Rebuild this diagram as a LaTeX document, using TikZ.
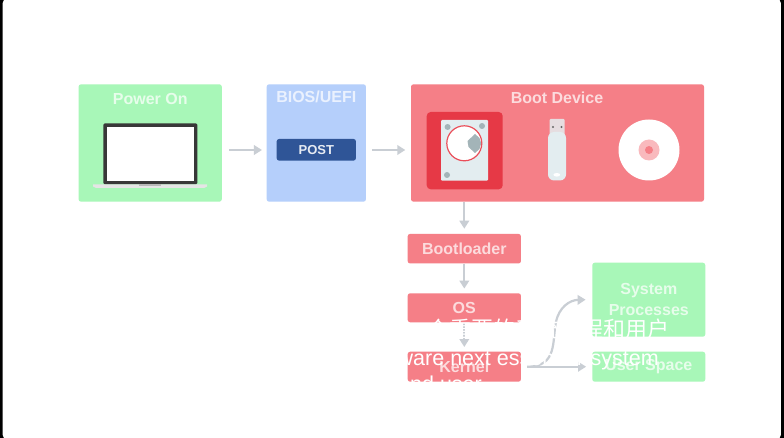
\documentclass[tikz,border=0pt]{standalone}
\usepackage{fontspec}
\setmainfont{Liberation Sans}
\newfontfamily\cjk{Noto Sans CJK SC}
\usetikzlibrary{arrows.meta}

\definecolor{greenbox}{HTML}{A8F7B8}
\definecolor{bluebox}{HTML}{B5CFFB}
\definecolor{redbox}{HTML}{F57F87}
\definecolor{hddred}{HTML}{E63946}
\definecolor{postblue}{HTML}{2F5597}
\definecolor{flowgray}{HTML}{C9CED4}
\definecolor{steel}{HTML}{E3EDF0}
\definecolor{screwgray}{HTML}{A3B4B8}

\tikzset{
  box/.style={rounded corners=2.5pt, inner sep=0pt},
  title/.style={font=\fontsize{16}{19}\selectfont\bfseries, text=white!72!#1, inner sep=0pt},
  flow/.style={draw=flowgray, line width=2.2pt, -{Triangle[length=8pt,width=9.5pt]}},
  caption/.style={anchor=base west, text=white, inner sep=0pt, font=\fontsize{21.5}{26}\selectfont},
}

\begin{document}
\begin{tikzpicture}[x=1pt,y=-1pt]

\useasboundingbox (0,0) rectangle (784,438);
\fill [black] (0,0) rectangle (784,438);
\fill [white, rounded corners=4pt] (2.7,-1) rectangle (780.8,439);

\coordinate (power-c) at (150.2,143);
\coordinate (bios-c) at (316.3,143);
\coordinate (device-c) at (557.5,143);
\coordinate (loader-c) at (464.3,248.7);
\coordinate (os-c) at (464.3,307.8);
\coordinate (kernel-c) at (464.3,366.7);
\coordinate (procs-c) at (648.8,299.7);
\coordinate (user-c) at (648.8,366.7);

\node [box, fill=greenbox, minimum width=143.2pt, minimum height=117.4pt] (power) at (power-c) {};
\node [box, fill=bluebox, minimum width=99.3pt, minimum height=117.4pt] (bios) at (bios-c) {};
\node [box, fill=redbox, minimum width=293pt, minimum height=117.4pt] (device) at (device-c) {};
\node [box, fill=redbox, minimum width=113.3pt, minimum height=29.6pt, title=redbox] (loader) at (loader-c) {Bootloader};
\node [box, fill=redbox, minimum width=113.3pt, minimum height=29pt, title=redbox] (os) at (os-c) {OS};
\node [box, fill=redbox, minimum width=113.3pt, minimum height=30pt, title=redbox] (kernel) at (kernel-c) {Kernel};
\node [box, fill=greenbox, minimum width=113pt, minimum height=74pt, align=center, title=greenbox] (procs) at (procs-c) {System\\[2pt]Processes};
\node [box, fill=greenbox, minimum width=113pt, minimum height=30pt, title=greenbox] (user) at (user-c) {User Space};

\node [title=greenbox] (power-title) at (150.2,99) {Power On};
\node [title=bluebox] (bios-title) at (316.3,97) {BIOS/UEFI};
\node [title=redbox] (device-title) at (557,97.5) {Boot Device};
\node [box, fill=postblue, minimum width=79.3pt, minimum height=21.7pt, text=white!88!postblue, font=\fontsize{13}{16}\selectfont\bfseries] (post) at (316.3,149.8) {POST};

\fill [fill=black!78, rounded corners=1.5pt] (103.3,123.3) rectangle (197.3,184.5);
\fill [white] (106.5,127) rectangle (194,181.5);
\fill [black!10] (93,184.5) -- (207,184.5) -- (207,186.5) -- (204,188) -- (96,188) -- (93,186.5) -- cycle;
\fill [black!28] (139,184.5) rectangle (161,185.8);

\fill [hddred, rounded corners=4pt] (426.7,112) rectangle (502.7,189.3);
\fill [steel, rounded corners=1pt] (441,120) rectangle (488,180.7);
\fill [screwgray] (447.6,127) circle (3pt) (482,126) circle (3pt) (447,175) circle (3pt);
\draw [fill=white, draw=hddred!70!redbox, line width=1.2pt] (464.3,143.3) circle (17.5pt);
\fill [screwgray] (467.5,141) -- (475,134) -- (479.5,138) -- (481.2,143.3) -- (479.5,149) -- (475,153) -- (468.5,147) -- cycle;

\fill [steel!85!redbox, rounded corners=1pt] (549.5,119) rectangle (564.5,136);
\fill [steel, rounded corners=6pt] (548,132) -- (566,132) -- (566,180.5) -- (548,180.5) -- cycle;
\fill [black!60] (553,127) circle (1.2pt) (561.5,127) circle (1.2pt);
\fill [white] (556.8,174.8) ellipse (3.4pt and 1.8pt);

\fill [white] (649,150) circle (30.5pt);
\fill [redbox!55] (649,150) circle (10.5pt);
\fill [redbox] (649,150) circle (4pt);

\draw [flow] ([xshift=7pt,yshift=-7pt]power.east) -- ([xshift=-4.5pt,yshift=-7pt]bios.west);
\draw [flow] ([xshift=6pt,yshift=-7pt]bios.east) -- ([xshift=-5.5pt,yshift=-7pt]device.west);
\draw [flow] (loader.north |- device.south) -- ([yshift=5pt]loader.north);
\draw [flow] (loader.south) -- ([yshift=4.5pt]os.north);
\draw [flow] (os.south) -- ([yshift=4.5pt]kernel.north);
\draw [flow] ([xshift=6pt]kernel.east) -- ([xshift=-6pt]user.west);
\draw [flow] ([xshift=6pt]kernel.east) .. controls (558,367) and (552,340) .. (556,322) .. controls (559,307) and (570,300) .. ([xshift=-6.5pt]procs.west);

\node [caption, font=\fontsize{22}{26}\selectfont] (caption-a) at (405,337) {\cjk 一个重要的系统进程和用户};
\node [caption] (caption-b) at (397.5,365) {ware next essential\hspace{3pt} system};
\node [caption] (caption-c) at (398,391) {and user};

\end{tikzpicture}
\end{document}
